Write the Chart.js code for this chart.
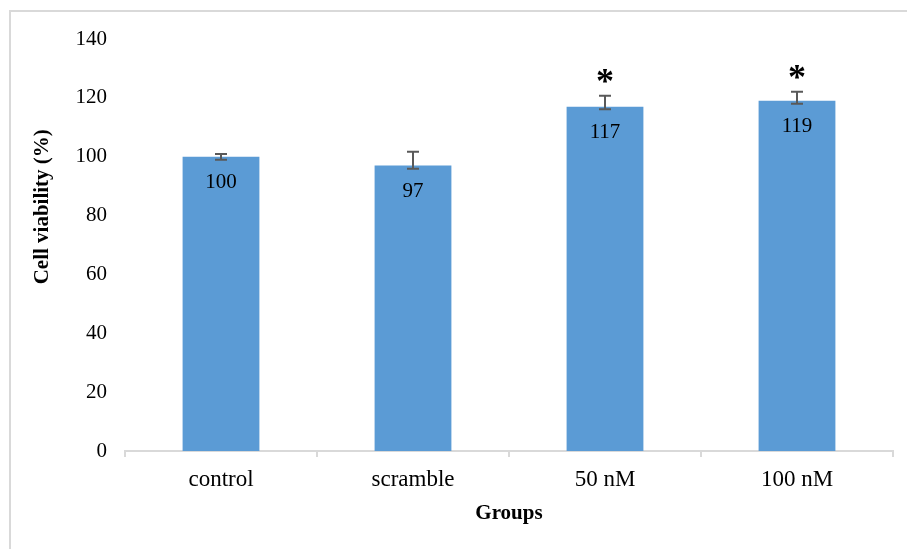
<!DOCTYPE html>
<html>
<head>
<meta charset="utf-8">
<script src="https://cdn.jsdelivr.net/npm/chart.js@4.4.0/dist/chart.umd.min.js"></script>
<style>
	html, body { margin: 0; padding: 0; background: #fff; overflow: hidden; }
	#frame {
		position: absolute; left: 9px; top: 10px; width: 920px; height: 560px;
		border-left: 2px solid #d9d9d9; border-top: 2px solid #d9d9d9;
	}
	#wrap { position: absolute; left: 0; top: 0; width: 907px; height: 549px; }
</style>
</head>
<body>
<div id="frame"></div>
<div id="wrap"><canvas id="viabilityChart"></canvas></div>
<script>
const groups = ['control', 'scramble', '50 nM', '100 nM'];
const viability = [100, 97, 117, 119];
const errUp = [0.9, 4.7, 3.7, 3.1];
const errDown = [1.0, 1.1, 0.9, 1.0];
const marks = ['', '', '*', '*'];
const yTitle = 'Cell viability (%)';

const serif = '"Liberation Serif", "Times New Roman", serif';

// error bars, value labels, significance stars and the y title
const extras = {
	id: 'extras',
	afterDatasetsDraw(chart) {
		const ctx = chart.ctx;
		const y = chart.scales.y;
		const meta = chart.getDatasetMeta(0);
		meta.data.forEach((bar, i) => {
			const x = bar.x;
			const top = y.getPixelForValue(viability[i] + errUp[i]);
			const bottom = y.getPixelForValue(viability[i] - errDown[i]);

			ctx.save();
			ctx.strokeStyle = '#595959';
			ctx.lineWidth = 2;
			ctx.beginPath();
			ctx.moveTo(x, top); ctx.lineTo(x, bottom);
			ctx.moveTo(x - 6, top); ctx.lineTo(x + 6, top);
			ctx.moveTo(x - 6, bottom); ctx.lineTo(x + 6, bottom);
			ctx.stroke();

			ctx.fillStyle = '#000';
			ctx.textAlign = 'center';
			ctx.textBaseline = 'middle';
			ctx.font = '21px ' + serif;
			ctx.fillText(String(viability[i]), x, bar.y + 26);

			if (marks[i]) {
				ctx.font = 'bold 36px ' + serif;
				ctx.fillText(marks[i], x, top - 12);
			}
			ctx.restore();
		});

		// Excel places this title a bit above the middle of the axis
		ctx.save();
		ctx.translate(43, y.getPixelForValue(83));
		ctx.rotate(-Math.PI / 2);
		ctx.fillStyle = '#000';
		ctx.textAlign = 'center';
		ctx.textBaseline = 'middle';
		ctx.font = 'bold 21px ' + serif;
		ctx.fillText(yTitle, 0, 0);
		ctx.restore();
	}
};

new Chart(document.getElementById('viabilityChart').getContext('2d'), {
	type: 'bar',
	data: {
		labels: groups,
		datasets: [{
			label: 'Cell viability',
			data: viability,
			backgroundColor: '#5b9bd5',
			borderWidth: 0,
			categoryPercentage: 1,
			barPercentage: 0.4
		}]
	},
	options: {
		responsive: true,
		maintainAspectRatio: false,
		animation: false,
		layout: {
			padding: { left: 28, right: 14, top: 39, bottom: 8 }
		},
		plugins: {
			legend: { display: false },
			tooltip: { enabled: false }
		},
		scales: {
			x: {
				afterFit: (s) => { s.height = 90; },
				grid: {
					drawOnChartArea: false,
					drawTicks: true,
					tickLength: 6,
					color: '#d9d9d9',
					lineWidth: 2
				},
				border: { color: '#d9d9d9', width: 2 },
				ticks: {
					color: '#000',
					padding: 9,
					font: { family: serif, size: 23 }
				},
				title: {
					display: true,
					text: 'Groups',
					color: '#000',
					padding: { top: 4, bottom: 15 },
					font: { family: serif, size: 21, weight: 'bold' }
				}
			},
			y: {
				min: 0,
				max: 140,
				afterFit: (s) => { s.width = 97; },
				grid: { display: false },
				border: { display: false },
				ticks: {
					stepSize: 20,
					color: '#000',
					padding: 10,
					font: { family: serif, size: 21 }
				}
			}
		}
	},
	plugins: [extras]
});
</script>
</body>
</html>
